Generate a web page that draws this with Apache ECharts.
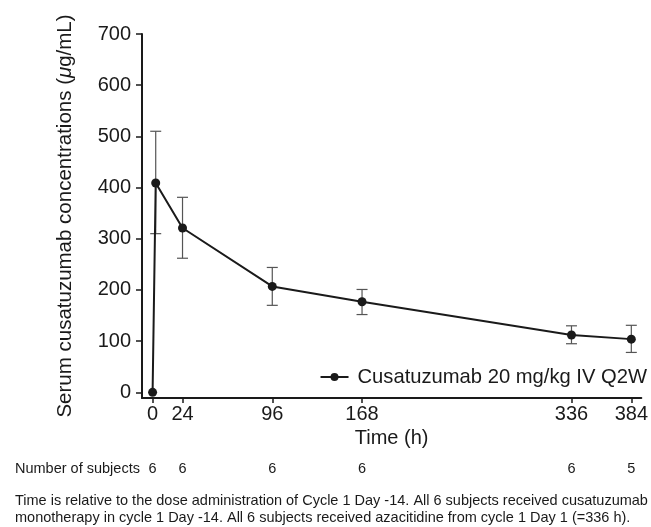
<!DOCTYPE html>
<html><head><meta charset="utf-8">
<script src="https://cdn.jsdelivr.net/npm/echarts@6/dist/echarts.min.js"></script>
<style>html,body{margin:0;padding:0;background:#fff}#c{width:651px;height:527px}</style>
</head><body><div id="c"></div>
<script>
const times = [0, 2.5, 24, 96, 168, 336, 384];
const means = [0, 409, 321, 207, 177, 112, 104];
const errLow = [null, 310, 262, 170, 152, 95, 78];
const errHigh = [null, 510, 381, 244, 201, 130, 131];
const xTicks = [0, 24, 96, 168, 336, 384];
const subjects = [6, 6, 6, 6, 6, 5];
const yTicks = [0, 100, 200, 300, 400, 500, 600, 700];
const seriesName = 'Cusatuzumab 20 mg/kg IV Q2W';
const footnote1 = 'Time is relative to the dose administration of Cycle 1 Day -14. All 6 subjects received cusatuzumab';
const footnote2 = 'monotherapy in cycle 1 Day -14. All 6 subjects received azacitidine from cycle 1 Day 1 (=336 h).';

const FONT = '"Liberation Sans", Arial, sans-serif';
const lineData = times.map((t, i) => [t, means[i]]);
const errData = [];
times.forEach((t, i) => { if (errLow[i] != null) errData.push([t, errLow[i], errHigh[i]]); });

const chart = echarts.init(document.getElementById('c'), null, {renderer: 'canvas'});
chart.setOption({
  animation: false,
  textStyle: {fontFamily: FONT},
  grid: {left: 142, right: 8, top: 34, bottom: 129},
  xAxis: [{
    type: 'value', min: -8.5, max: 392,
    axisLine: {onZero: false, lineStyle: {color: '#1a1a1a', width: 2}},
    axisTick: {show: true, length: 5, customValues: xTicks, lineStyle: {color: '#1a1a1a', width: 1.5}},
    axisLabel: {customValues: xTicks, color: '#1a1a1a', fontSize: 20, margin: 6, fontFamily: FONT},
    splitLine: {show: false},
    name: 'Time (h)', nameLocation: 'middle', nameGap: 21,
    nameTextStyle: {color: '#1a1a1a', fontSize: 20, fontFamily: FONT}
  }, {
    type: 'value', min: -8.5, max: 392, position: 'bottom', offset: 63,
    axisLine: {show: false}, axisTick: {show: false}, splitLine: {show: false},
    axisLabel: {customValues: xTicks, color: '#1a1a1a', fontSize: 14.5, margin: 0, fontFamily: FONT,
      formatter: v => String(subjects[xTicks.indexOf(v)])}
  }],
  yAxis: {
    type: 'value', min: -11, max: 700,
    axisLine: {show: true, onZero: false, lineStyle: {color: '#1a1a1a', width: 2}},
    axisTick: {show: true, length: 6, customValues: yTicks, lineStyle: {color: '#1a1a1a', width: 1.5}},
    axisLabel: {customValues: yTicks, color: '#1a1a1a', fontSize: 20, margin: 11, fontFamily: FONT},
    splitLine: {show: false},
    name: 'Serum cusatuzumab concentrations ({i|μ}g/mL)', nameLocation: 'middle', nameGap: 66,
    nameTextStyle: {color: '#1a1a1a', fontSize: 20.5, fontFamily: FONT,
      rich: {i: {fontStyle: 'italic', fontSize: 20.5, color: '#1a1a1a', fontFamily: FONT}}}
  },
  legend: {
    right: 4, top: 367, padding: 0, itemWidth: 28, itemHeight: 10, itemGap: 6,
    textStyle: {color: '#1a1a1a', fontSize: 20.2, fontFamily: FONT, padding: [0, 0, 0, 4]},
    data: [seriesName]
  },
  series: [{
    type: 'custom', name: 'err', silent: true, z: 1,
    data: errData,
    renderItem: function (params, api) {
      const x = api.value(0);
      const lo = api.coord([x, api.value(1)]);
      const hi = api.coord([x, api.value(2)]);
      const w = 5.5;
      const st = {stroke: '#555', lineWidth: 1.2};
      return {type: 'group', children: [
        {type: 'line', shape: {x1: lo[0], y1: lo[1], x2: hi[0], y2: hi[1]}, style: st},
        {type: 'line', shape: {x1: lo[0] - w, y1: lo[1], x2: lo[0] + w, y2: lo[1]}, style: st},
        {type: 'line', shape: {x1: hi[0] - w, y1: hi[1], x2: hi[0] + w, y2: hi[1]}, style: st}
      ]};
    }
  }, {
    type: 'line', name: seriesName, data: lineData, z: 3,
    symbol: 'circle', symbolSize: 9,
    lineStyle: {color: '#1a1a1a', width: 2},
    itemStyle: {color: '#1a1a1a'}
  }],
  graphic: [
    {type: 'text', left: 15, top: 461, style: {text: 'Number of subjects', fill: '#1a1a1a', font: '14.5px ' + FONT}},
    {type: 'text', left: 15, top: 493, style: {text: footnote1, fill: '#1a1a1a', font: '14.5px ' + FONT}},
    {type: 'text', left: 15, top: 510, style: {text: footnote2, fill: '#1a1a1a', font: '14.5px ' + FONT}}
  ]
});
</script></body></html>
